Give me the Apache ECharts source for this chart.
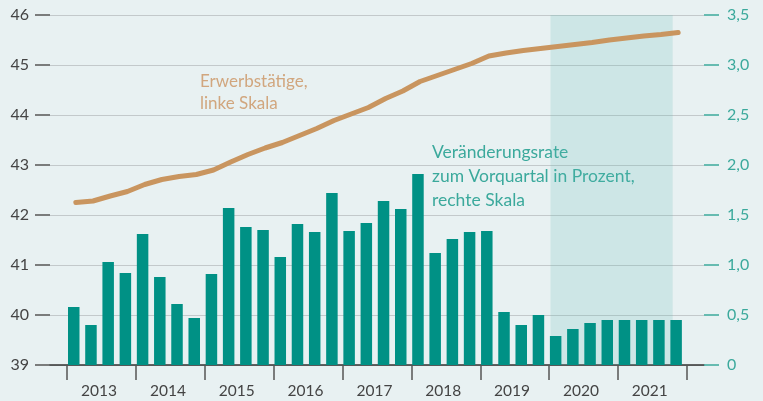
<!DOCTYPE html>
<html>
<head>
<meta charset="utf-8">
<script src="https://cdn.jsdelivr.net/npm/echarts@6/dist/echarts.min.js"></script>
<style>
  html, body { margin: 0; padding: 0; background: #e8f1f2; }
  #chart { width: 763px; height: 401px; }
</style>
</head>
<body>
<div id="chart"></div>
<script>
var years = ["2013", "2014", "2015", "2016", "2017", "2018", "2019", "2020", "2021"];

// Erwerbstätige in Mio., linke Skala (quarterly, 2013 Q1 - 2021 Q4)
var employed = [
  42.25, 42.28, 42.38, 42.47, 42.61, 42.71, 42.77, 42.81,
  42.90, 43.06, 43.21, 43.34, 43.45, 43.59, 43.73, 43.89,
  44.02, 44.15, 44.33, 44.48, 44.67, 44.79, 44.91, 45.03,
  45.18, 45.24, 45.29, 45.33, 45.37, 45.41, 45.45, 45.50,
  45.54, 45.58, 45.61, 45.65
];

// Veränderungsrate zum Vorquartal in Prozent, rechte Skala
var change = [
  0.58, 0.40, 1.03, 0.92, 1.31, 0.88, 0.61, 0.47,
  0.91, 1.57, 1.38, 1.35, 1.08, 1.41, 1.33, 1.72,
  1.34, 1.42, 1.64, 1.56, 1.91, 1.12, 1.26, 1.33,
  1.34, 0.53, 0.40, 0.50, 0.29, 0.36, 0.42, 0.45,
  0.45, 0.45, 0.45, 0.45
];

var leftTicks = [39, 40, 41, 42, 43, 44, 45, 46];
var rightTicks = [0, 0.5, 1, 1.5, 2, 2.5, 3, 3.5];

// x runs in quarters; one empty quarter of padding on each side
var yearTicks = years.map(function (y, k) { return 1 + 4 * k; }).concat([1 + 4 * years.length]);
var yearLabelPos = years.map(function (y, k) { return 2.85 + 4 * k; });
var forecastFrom = 29.08, forecastTo = 36.18;

var teal = "#009185";
var tealText = "#3ba99c";
var tan = "#c9955f";

var myChart = echarts.init(document.getElementById("chart"));
var option = {
  animation: false,
  backgroundColor: "#e8f1f2",
  textStyle: { fontFamily: "Lato" },
  grid: { left: 50, right: 59, top: 15, bottom: 36 },
  xAxis: {
    type: "value",
    min: 0,
    max: 4 * years.length + 2,
    splitLine: { show: false },
    axisLine: { onZero: false, lineStyle: { color: "#333", width: 1.5 } },
    axisTick: {
      customValues: yearTicks,
      length: 15,
      lineStyle: { color: "#555", width: 1.5 }
    },
    axisLabel: {
      customValues: yearLabelPos,
      margin: 18,
      fontSize: 15.5,
      color: "#444",
      formatter: function (v) { return years[Math.round((v - 2.85) / 4)]; }
    }
  },
  yAxis: [
    {
      type: "value",
      min: leftTicks[0],
      max: leftTicks[leftTicks.length - 1],
      interval: 1,
      axisLine: { show: false },
      axisTick: { show: true, length: 15, lineStyle: { color: "#555", width: 1.5 } },
      axisLabel: { margin: 21, fontSize: 16, color: "#444" },
      splitLine: { lineStyle: { color: "#c3c9cb", width: 1.2 } }
    },
    {
      type: "value",
      min: rightTicks[0],
      max: rightTicks[rightTicks.length - 1],
      interval: 0.5,
      position: "right",
      axisLine: { show: false },
      axisTick: { show: true, length: 15, lineStyle: { color: tealText, width: 1.5 } },
      axisLabel: {
        margin: 23,
        fontSize: 16,
        color: tealText,
        formatter: function (v) { return v === 0 ? "0" : v.toFixed(1).replace(".", ","); }
      },
      splitLine: { show: false }
    }
  ],
  series: [
    {
      name: "Veränderungsrate",
      type: "bar",
      yAxisIndex: 1,
      barWidth: 11.5,
      itemStyle: { color: teal },
      data: change.map(function (v, i) { return [i + 1.38, v]; }),
      z: 2
    },
    {
      name: "Prognose",
      type: "line",
      yAxisIndex: 0,
      data: [],
      z: 3,
      markArea: {
        silent: true,
        itemStyle: { color: "rgba(90,188,182,0.19)" },
        data: [[{ xAxis: forecastFrom, y: 15 }, { xAxis: forecastTo, y: 365 }]]
      }
    },
    {
      name: "Erwerbstätige",
      type: "line",
      yAxisIndex: 0,
      symbol: "none",
      lineStyle: { color: tan, width: 5, cap: "round", join: "round" },
      data: employed.map(function (v, i) { return [i + 1.5, v]; }),
      z: 4
    }
  ],
  graphic: [
    {
      type: "text",
      left: 200,
      top: 71,
      style: {
        text: "Erwerbstätige,\nlinke Skala",
        fill: "#d1a67e",
        font: "17px Lato",
        lineHeight: 22
      }
    },
    {
      type: "text",
      left: 432,
      top: 141,
      style: {
        text: "Veränderungsrate\nzum Vorquartal in Prozent,\nrechte Skala",
        fill: tealText,
        font: "17.5px Lato",
        lineHeight: 23.7
      }
    }
  ]
};
myChart.setOption(option);
</script>
</body>
</html>
